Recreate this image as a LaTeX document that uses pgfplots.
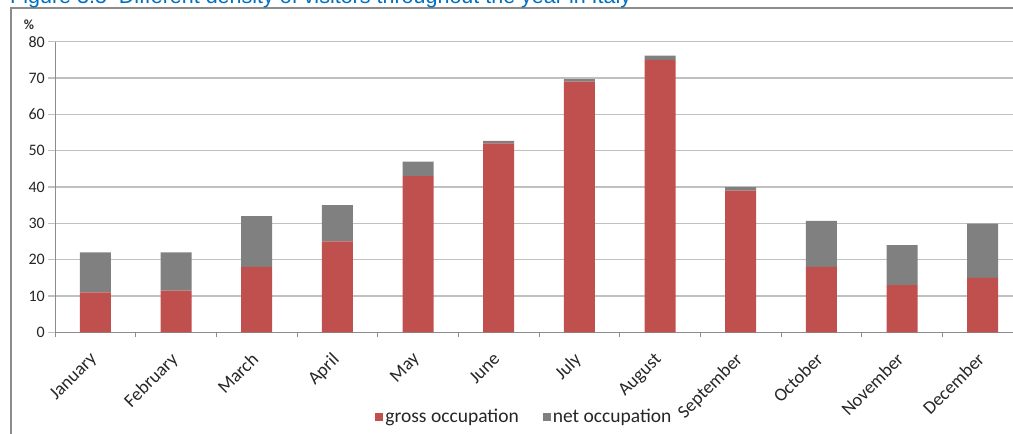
\documentclass[border=0pt]{standalone}
\usepackage{pgfplots}
\pgfplotsset{compat=1.18}
\usepackage{fontspec}
\setmainfont{Carlito}
\newfontfamily\titlefont{Liberation Sans}

\definecolor{grossred}{RGB}{192,80,77}
\definecolor{netgray}{RGB}{128,128,128}
\definecolor{gridgray}{RGB}{192,192,192}
\definecolor{titleblue}{RGB}{0,112,192}

% net = total height minus gross (stacked on top)
\pgfplotstableread{
idx gross net
0  11.0 11.0
1  11.5 10.5
2  18.0 14.0
3  25.0 10.0
4  43.0 4.0
5  52.0 0.7
6  69.0 0.7
7  75.0 1.2
8  39.0 1.0
9  18.0 12.7
10 13.0 11.0
11 15.0 14.9
}\visitors

\begin{document}
\begin{tikzpicture}
\path[use as bounding box, clip] (0pt,0pt) rectangle (1013pt,434pt);
\draw[line width=1.5pt, draw=black!45] (11pt,-5pt) -- (11pt,426pt) -- (1020pt,426pt);
\node[anchor=base west, text=titleblue, font=\titlefont\fontsize{21.5}{24}\selectfont, inner sep=0pt]
  at (10pt,430pt) {Figure 3.5\ \ Different density of visitors throughout the year in Italy};
\node[font=\fontsize{14}{16}\selectfont\bfseries, text=black!80, inner sep=0pt] at (29pt,409pt) {\%};
\begin{axis}[
    at={(55pt,101.7pt)}, anchor=south west,
    scale only axis, width=958pt, height=290.6pt,
    ybar stacked, bar width=31pt,
    xmin=-0.5, xmax=11.376,
    ymin=0, ymax=80, ytick={0,10,...,80},
    xtick={0,...,11},
    xticklabels={January,February,March,April,May,June,July,August,September,October,November,December},
    minor xtick={-0.5,0.5,...,11.5},
    axis x line=bottom, axis y line=left,
    axis line style={-, draw=black!45, line width=1pt},
    ymajorgrids=true,
    grid style={draw=gridgray, line width=1.3pt},
    tick align=outside,
    major tick length=7pt, minor tick length=5pt,
    ytick style={draw=gridgray, line width=1.3pt},
    major x tick style={draw=none},
    minor x tick style={draw=black!45, line width=0.8pt},
    /pgf/number format/assume math mode=true,
    yticklabel style={font=\fontsize{16}{18}\selectfont, text=black!85, inner sep=0pt, xshift=-3pt},
    xticklabel style={rotate=45, anchor=north east, font=\fontsize{18.5}{20}\selectfont,
        text=black!85, inner sep=0pt, yshift=-4pt, xshift=-13pt},
    legend style={at={(0.49,-0.29)}, anchor=center, draw=none, fill=none,
        legend columns=2, font=\fontsize{19.5}{22}\selectfont, text=black!85,
        /tikz/every even column/.append style={column sep=22pt}},
]
\addplot[draw=none, fill=grossred,
    legend image code/.code={\fill[grossred] (0pt,-4pt) rectangle (8pt,4pt);}]
    table[x=idx, y=gross] {\visitors};
\addplot[draw=none, fill=netgray,
    legend image code/.code={\fill[netgray] (0pt,-4pt) rectangle (8pt,4pt);}]
    table[x=idx, y=net] {\visitors};
\legend{gross occupation, net occupation}
\end{axis}
\end{tikzpicture}
\end{document}
